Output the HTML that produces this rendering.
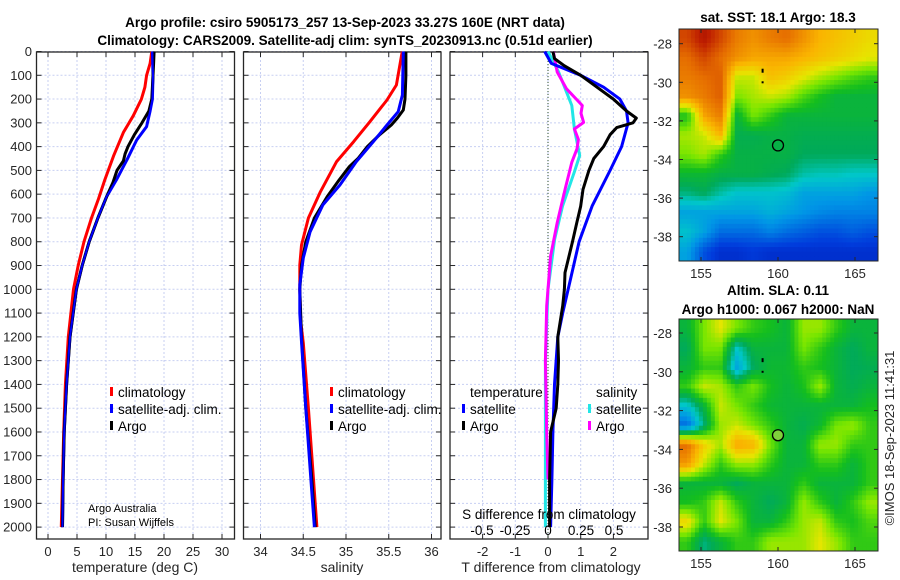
<!DOCTYPE html>
<html><head><meta charset="utf-8"><style>
html,body{margin:0;padding:0;background:#fff}
svg{display:block;font-family:"Liberation Sans","DejaVu Sans",sans-serif}
</style></head><body>
<svg id="fig" width="900" height="580" viewBox="0 0 900 580" xmlns="http://www.w3.org/2000/svg">
<text x="345" y="27" text-anchor="middle" font-size="13.5" font-weight="bold" fill="#000">Argo profile: csiro 5905173_257 13-Sep-2023 33.27S 160E (NRT data)</text>
<text x="345" y="45" text-anchor="middle" font-size="13.5" font-weight="bold" fill="#000">Climatology: CARS2009. Satellite-adj clim: synTS_20230913.nc (0.51d earlier)</text>
<text x="778" y="22" text-anchor="middle" font-size="13.5" font-weight="bold">sat. SST: 18.1 Argo: 18.3</text>
<text x="778" y="295" text-anchor="middle" font-size="13.5" font-weight="bold">Altim. SLA: 0.11</text>
<text x="778" y="314" text-anchor="middle" font-size="13.5" font-weight="bold">Argo h1000: 0.067 h2000: NaN</text>
<text transform="translate(894,438) rotate(-90)" text-anchor="middle" font-size="13" fill="#262626">©IMOS 18-Sep-2023 11:41:31</text>
<g id="layer"></g>
</svg>
<script>
// ---------- data ----------
const depthTicks = [0,100,200,300,400,500,600,700,800,900,1000,1100,1200,1300,1400,1500,1600,1700,1800,1900,2000];
const tempTicks = [0,5,10,15,20,25,30];
const salTicks = [34,34.5,35,35.5,36];
const salTickLabels = ["34","34.5","35","35.5","36"];
const tdTicks = [-2,-1,0,1,2];
const sdTicks = [-0.5,-0.25,0,0.25,0.5];
const sdTickLabels = ["-0.5","-0.25","0","0.25","0.5"];

const tClimDepth = [0,50,100,150,200,270,340,440,540,620,700,800,900,1000,1200,1400,1600,1800,2000];
const tClimVal   = [17.9,17.6,17.0,16.7,16.1,14.7,13.0,11.3,9.8,8.7,7.5,6.2,5.2,4.4,3.5,3.0,2.7,2.5,2.3];
const tSatDepth  = [0,100,200,250,316,372,456,540,610,700,800,900,1000,1200,1400,1600,1800,2000];
const tSatVal    = [18.0,18.1,18.0,17.6,17.0,15.3,13.6,11.8,10.1,8.6,7.1,5.9,4.9,3.8,3.2,2.8,2.6,2.5];
const tArgoDepth = [0,50,100,150,200,250,300,350,400,430,460,500,550,600,700,800,900,1000,1200,1400,1600,1800,2000];
const tArgoVal   = [18.3,18.2,18.1,18.0,17.9,17.4,16.2,14.9,13.8,13.3,13.0,11.9,11.2,10.3,8.6,7.1,5.9,4.9,3.8,3.2,2.8,2.6,2.5];

const sClimDepth = [0,15,141,204,295,379,463,590,700,814,898,1000,1136,1226,1500,1800,2000];
const sClimVal   = [35.66,35.65,35.59,35.48,35.28,35.09,34.89,34.70,34.56,34.48,34.46,34.46,34.47,34.50,34.56,34.62,34.66];
const sSatDepth  = [0,183,253,309,379,463,561,645,758,868,980,1100,1220,1500,1800,2000];
const sSatVal    = [35.67,35.66,35.61,35.48,35.32,35.12,34.93,34.73,34.58,34.50,34.46,34.46,34.48,34.53,34.59,34.63];
const sArgoDepth = [0,100,200,246,280,309,351,400,450,484,540,610,700,800,900,1000,1200,1500,1800,2000];
const sArgoVal   = [35.70,35.70,35.69,35.67,35.60,35.53,35.39,35.25,35.14,35.04,34.92,34.78,34.63,34.53,34.48,34.46,34.48,34.53,34.60,34.64];

const dTSatDepth = [0,50,100,150,200,250,300,400,500,650,800,950,1100,1200,1400,1600,1800,2000];
const dTSatVal   = [-0.1,0.1,1.0,1.7,2.2,2.4,2.45,2.25,1.9,1.35,0.95,0.7,0.45,0.3,0.2,0.15,0.12,0.08];
const dTArgoDepth = [0,30,60,100,150,200,250,280,300,320,350,400,450,500,580,650,720,800,930,1000,1070,1200,1300,1400,1500,1600,1800,2000];
const dTArgoVal   = [0.15,0.2,0.5,1.0,1.5,2.0,2.4,2.7,2.6,2.1,1.9,1.7,1.4,1.25,1.07,1.0,0.88,0.75,0.52,0.5,0.45,0.3,0.32,0.3,0.25,0.08,0.05,0.05];
const dSSatDepth = [0,86,227,326,437,506,650,790,1000,1300,1600,2000];
const dSSatVal   = [0.0,0.08,0.18,0.2,0.24,0.2,0.11,0.05,0.0,-0.02,-0.02,-0.02];
const dSArgoDepth = [0,86,157,227,260,298,326,370,409,466,578,720,860,1070,1300,1600,1800];
const dSArgoVal   = [0.04,0.07,0.14,0.26,0.25,0.27,0.2,0.23,0.22,0.18,0.13,0.07,0.02,-0.01,-0.02,-0.01,0.0];

const sstGrid = [
[0.85,0.92,0.85,0.78,0.75,0.78,0.8,0.75,0.7,0.68,0.66,0.64],
[0.8,0.85,0.8,0.75,0.72,0.72,0.72,0.7,0.68,0.66,0.64,0.62],
[0.78,0.8,0.82,0.6,0.6,0.68,0.66,0.62,0.58,0.55,0.52,0.5],
[0.75,0.78,0.82,0.55,0.58,0.6,0.58,0.52,0.48,0.45,0.45,0.45],
[0.48,0.72,0.78,0.45,0.55,0.5,0.45,0.45,0.45,0.45,0.45,0.45],
[0.58,0.6,0.7,0.43,0.43,0.44,0.44,0.43,0.43,0.43,0.43,0.43],
[0.55,0.58,0.5,0.44,0.44,0.44,0.44,0.42,0.42,0.42,0.42,0.42],
[0.46,0.46,0.44,0.44,0.44,0.43,0.42,0.38,0.37,0.37,0.36,0.36],
[0.4,0.42,0.38,0.35,0.35,0.35,0.34,0.3,0.3,0.3,0.3,0.28],
[0.3,0.3,0.3,0.3,0.3,0.32,0.3,0.28,0.26,0.25,0.25,0.25],
[0.35,0.3,0.22,0.22,0.22,0.25,0.22,0.2,0.18,0.18,0.2,0.18],
[0.3,0.18,0.12,0.12,0.14,0.12,0.12,0.12,0.12,0.12,0.12,0.12]];
const slaGrid = [
[0.45,0.55,0.62,0.55,0.5,0.48,0.45,0.57,0.57,0.5,0.45,0.45],
[0.42,0.55,0.55,0.36,0.45,0.45,0.45,0.55,0.5,0.45,0.42,0.45],
[0.45,0.5,0.5,0.3,0.42,0.46,0.46,0.5,0.48,0.45,0.42,0.43],
[0.5,0.6,0.58,0.5,0.55,0.48,0.45,0.48,0.57,0.45,0.43,0.45],
[0.35,0.45,0.6,0.55,0.5,0.46,0.45,0.45,0.45,0.45,0.45,0.48],
[0.22,0.4,0.57,0.6,0.55,0.5,0.45,0.43,0.46,0.55,0.57,0.5],
[0.8,0.66,0.58,0.72,0.7,0.55,0.45,0.45,0.57,0.57,0.5,0.5],
[0.74,0.6,0.5,0.57,0.57,0.5,0.45,0.45,0.5,0.5,0.45,0.5],
[0.45,0.45,0.45,0.42,0.45,0.45,0.45,0.5,0.45,0.45,0.45,0.5],
[0.48,0.5,0.6,0.5,0.45,0.42,0.45,0.57,0.5,0.45,0.5,0.57],
[0.65,0.5,0.62,0.55,0.45,0.45,0.5,0.57,0.6,0.5,0.48,0.52],
[0.5,0.4,0.45,0.5,0.5,0.57,0.57,0.57,0.62,0.57,0.5,0.5]];
const latTicks = [-28,-30,-32,-34,-36,-38];
const lonTicks = [155,160,165];

// ---------- helpers ----------
const NS = "http://www.w3.org/2000/svg";
const layer = document.getElementById('layer');
function mk(tag, attrs, parent){ const e=document.createElementNS(NS,tag); for(const k in attrs) e.setAttribute(k,attrs[k]); (parent||layer).appendChild(e); return e; }
const Y0 = 51.5, YPX = 0.2378, BOT = 539, TOP = 52;
const yD = d => Y0 + d*YPX;
const panels = [
  {name:'temperature', l:36.5, r:234.5, x:v=>48+v*5.8},
  {name:'salinity', l:243.5, r:441, x:v=>260.5+(v-34)*85.5},
  {name:'difference', l:450, r:648, x:v=>548+v*32.7}
];
const xS = v => 548 + v*132;

function line(depths, vals, xf, color, name, w){
  let d=''; depths.forEach((dp,i)=>{ d+=(i?'L':'M')+xf(vals[i]).toFixed(1)+','+yD(dp).toFixed(1); });
  const p = mk('path',{d:d,fill:'none',stroke:color,'stroke-width':w||3,'stroke-linejoin':'round'});
  
  
}

// panels frames, grids, ticks
panels.forEach((p,pi)=>{
  const g = mk('g',{});
  
  
  depthTicks.forEach(d=>{
    const y=yD(d);
    mk('line',{x1:p.l,x2:p.r,y1:y,y2:y,stroke:'#c7cff2','stroke-width':1,'stroke-dasharray':'2,2'},g);
    mk('line',{x1:p.l,x2:p.l+5,y1:y,y2:y,stroke:'#262626'},g);
    mk('line',{x1:p.r-5,x2:p.r,y1:y,y2:y,stroke:'#262626'},g);
    if(pi===0){ const t=mk('text',{x:32,y:y+4.5,'text-anchor':'end','font-size':13,fill:'#262626'},g); t.textContent=d;
        }
  });
  const xt = pi===0?tempTicks:pi===1?salTicks:tdTicks;
  xt.forEach((v,i)=>{
    const x=p.x(v);
    mk('line',{x1:x,x2:x,y1:TOP,y2:BOT,stroke:'#c7cff2','stroke-width':1,'stroke-dasharray':'2,2'},g);
    mk('line',{x1:x,x2:x,y1:BOT-5,y2:BOT,stroke:'#262626'},g);
    mk('line',{x1:x,x2:x,y1:TOP,y2:TOP+5,stroke:'#262626'},g);
    const t=mk('text',{x:x,y:556,'text-anchor':'middle','font-size':13,fill:'#262626'},g);
    t.textContent = pi===1?salTickLabels[i]:v;
     
  });
  mk('rect',{x:p.l,y:TOP,width:p.r-p.l,height:BOT-TOP,fill:'none',stroke:'#262626','stroke-width':1.3},g);
});
// x axis titles
[['temperature (deg C)',135,'temperature-axis-title'],['salinity',342,'salinity-axis-title'],['T difference from climatology',551,'t-difference-axis-title']].forEach(a=>{
  const t=mk('text',{x:a[1],y:572,'text-anchor':'middle','font-size':14,fill:'#262626'}); t.textContent=a[0];
   
});
// zero dotted line panel 3
mk('line',{x1:548,x2:548,y1:TOP,y2:BOT,stroke:'#2f4f2f','stroke-width':1,'stroke-dasharray':'1,2'});

// series
line(tClimDepth,tClimVal,panels[0].x,'#ff0000','temp-climatology-line');
line(tSatDepth,tSatVal,panels[0].x,'#0000ff','temp-satellite-line');
line(tArgoDepth,tArgoVal,panels[0].x,'#000000','temp-argo-line');
line(tSatDepth,tSatVal,panels[0].x,'#0000ff','temp-satellite-line-top',2);
line(sClimDepth,sClimVal,panels[1].x,'#ff0000','sal-climatology-line');
line(sArgoDepth,sArgoVal,panels[1].x,'#000000','sal-argo-line');
line(sSatDepth,sSatVal,panels[1].x,'#0000ff','sal-satellite-line');
line(dSSatDepth,dSSatVal,xS,'#22e6e6','sdiff-satellite-line');
line(dSArgoDepth,dSArgoVal,xS,'#ff00ff','sdiff-argo-line');
line(dTSatDepth,dTSatVal,panels[2].x,'#0000ff','tdiff-satellite-line');
line(dTArgoDepth,dTArgoVal,panels[2].x,'#000000','tdiff-argo-line');

// legends
function leg(x,y,color,label,name){
  const g=mk('g',{});  
  if(color) mk('rect',{x:x,y:y-10,width:3,height:9,fill:color},g);
  const t=mk('text',{x:x+(color?8:0),y:y,'font-size':13.5,fill:'#000'},g); t.textContent=label;
}
leg(110,397,'#ff0000','climatology','legend-temp-climatology');
leg(110,414,'#0000ff','satellite-adj. clim.','legend-temp-satellite');
leg(110,431,'#000000','Argo','legend-temp-argo');
leg(330,397,'#ff0000','climatology','legend-sal-climatology');
leg(330,414,'#0000ff','satellite-adj. clim.','legend-sal-satellite');
leg(330,431,'#000000','Argo','legend-sal-argo');
leg(470,397,null,'temperature','legend-temperature-header');
leg(462,414,'#0000ff','satellite','legend-tdiff-satellite');
leg(462,431,'#000000','Argo','legend-tdiff-argo');
leg(596,397,null,'salinity','legend-salinity-header');
leg(588,414,'#22e6e6','satellite','legend-sdiff-satellite');
leg(588,431,'#ff00ff','Argo','legend-sdiff-argo');
let t=mk('text',{x:88,y:512,'font-size':11,fill:'#000'}); t.textContent='Argo Australia';
 
t=mk('text',{x:88,y:526,'font-size':11,fill:'#000'}); t.textContent='PI: Susan Wijffels';
 
t=mk('text',{x:549,y:519,'text-anchor':'middle','font-size':13.5,fill:'#000'}); t.textContent='S difference from climatology';
 
sdTicks.forEach((v,i)=>{ const tt=mk('text',{x:xS(v),y:535,'text-anchor':'middle','font-size':13.5,fill:'#000'}); tt.textContent=sdTickLabels[i];
    });

// ---------- maps ----------
const stops=[[0,0,0,150],[0.15,0,60,220],[0.28,0,150,230],[0.36,0,200,200],[0.42,0,170,90],[0.48,20,190,30],[0.55,120,230,0],[0.62,230,230,0],[0.7,250,180,0],[0.8,230,110,0],[0.9,190,30,0],[1,130,0,0]];
function cmap(v){ v=Math.max(0,Math.min(1,v)); for(let i=1;i<stops.length;i++){ if(v<=stops[i][0]){ const a=stops[i-1],b=stops[i],f=(v-a[0])/(b[0]-a[0]);
  return 'rgb('+[1,2,3].map(k=>Math.round(a[k]+(b[k]-a[k])*f)).join(',')+')'; } } return 'rgb(130,0,0)'; }
function sample(grid,fx,fy){ const R=grid.length,C=grid[0].length; const x=Math.max(0,Math.min(C-1,fx*C-0.5)), y=Math.max(0,Math.min(R-1,fy*R-0.5));
  const x0=Math.floor(x),y0=Math.floor(y),x1=Math.min(C-1,x0+1),y1=Math.min(R-1,y0+1),dx=x-x0,dy=y-y0;
  return grid[y0][x0]*(1-dx)*(1-dy)+grid[y0][x1]*dx*(1-dy)+grid[y1][x0]*(1-dx)*dy+grid[y1][x1]*dx*dy; }
const ML=679, MR=878, MW=MR-ML;
const lonX = lon => 778 + (lon-160)*15.4;
function drawMap(grid,top,bottom,name,lat28,lat38,circleFill){
  const g=mk('g',{});  
  const N=50, H=bottom-top;
  for(let r=0;r<N;r++) for(let c=0;c<N;c++){
    const v=sample(grid,(c+0.5)/N,(r+0.5)/N);
    mk('rect',{x:(ML+c*MW/N).toFixed(2),y:(top+r*H/N).toFixed(2),width:(MW/N+0.5).toFixed(2),height:(H/N+0.5).toFixed(2),fill:cmap(v)},g);
  }
  const latY = lat => lat28 + (lat+28)/(-10)*(lat38-lat28);
  latTicks.forEach(l=>{ const y=latY(l);
    mk('line',{x1:ML,x2:ML+4,y1:y,y2:y,stroke:'#262626'},g); mk('line',{x1:MR-4,x2:MR,y1:y,y2:y,stroke:'#262626'},g);
    const tt=mk('text',{x:672,y:y+5,'text-anchor':'end','font-size':13,fill:'#262626'},g); tt.textContent=l;
      });
  lonTicks.forEach(l=>{ const x=lonX(l);
    mk('line',{x1:x,x2:x,y1:bottom-4,y2:bottom,stroke:'#262626'},g); mk('line',{x1:x,x2:x,y1:top,y2:top+4,stroke:'#262626'},g);
    const tt=mk('text',{x:x,y:bottom+17,'text-anchor':'middle','font-size':13,fill:'#262626'},g); tt.textContent=l;
      });
  mk('rect',{x:ML,y:top,width:MW,height:H,fill:'none',stroke:'#262626','stroke-width':1},g);
  const c=mk('circle',{cx:lonX(160),cy:latY(-33.27),r:5.5,fill:circleFill,stroke:'#000','stroke-width':1.3},g);
   
  mk('rect',{x:lonX(159)-1,y:latY(-29.4)-2,width:2,height:4,fill:'#000'},g);
  mk('rect',{x:lonX(159)-1,y:latY(-30)-1,width:2,height:2,fill:'#000'},g);
}
drawMap(sstGrid,29,261,'sst-map',43.7,236.7,'none');
drawMap(slaGrid,319,551,'sla-map',333,527,'#7fd13b');
</script>
</body></html>
